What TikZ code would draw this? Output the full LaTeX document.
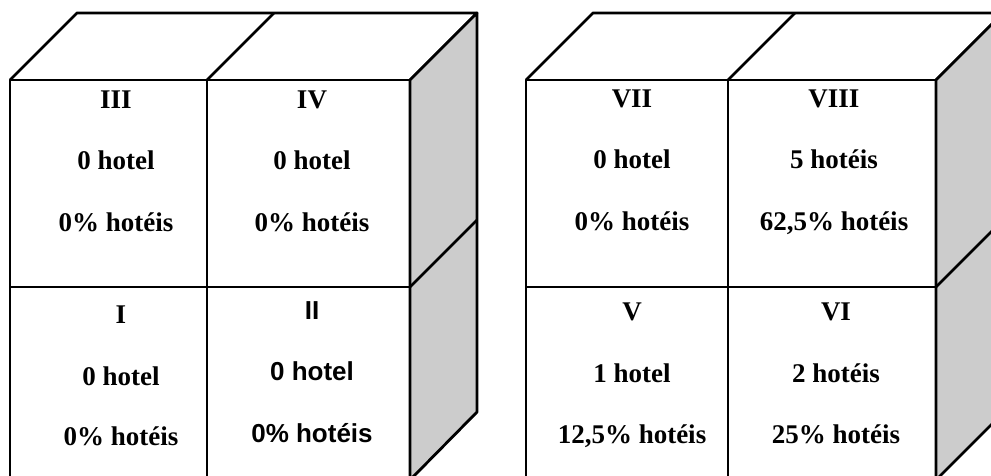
\documentclass[tikz,border=0pt]{standalone}
\usepackage{fontspec}
\setmainfont{Liberation Serif}
\newfontfamily\arialfont{Liberation Sans}
\begin{document}
\begin{tikzpicture}[x=1pt,y=-1pt,
  edge/.style={line width=2.8pt,line join=round},
  sideface/.style={edge,fill=black!20},
  lbl/.style={anchor=base,inner sep=0pt,font=\fontsize{27}{31}\selectfont\bfseries},
  lbls/.style={anchor=base,inner sep=0pt,font=\fontsize{26}{30}\selectfont\arialfont\bfseries}]
\useasboundingbox (0,0) rectangle (991,475);
\clip (0,0) rectangle (991,475);
% ---------- left cube ----------
\draw[edge] (10,80) -- (77,13) -- (477,13) -- (410,80);
\draw[edge] (207,80) -- (274,13);
\draw[sideface] (410,80) -- (477,13) -- (477,412) -- (410,480) -- cycle;
\draw[edge] (410,287) -- (477,220);
\draw[edge] (10,480) -- (10,80) -- (410,80) -- (410,480);
\draw[edge] (207,80) -- (207,480);
\draw[edge] (10,287) -- (410,287);
% ---------- right cube ----------
\draw[edge] (526,80) -- (593,13) -- (1003,13) -- (936,80);
\draw[edge] (728,80) -- (795,13);
\draw[sideface] (936,80) -- (1003,13) -- (1003,413) -- (936,480) -- cycle;
\draw[edge] (936,287) -- (1003,220);
\draw[edge] (526,480) -- (526,80) -- (936,80) -- (936,480);
\draw[edge] (728,80) -- (728,480);
\draw[edge] (526,287) -- (936,287);
% ---------- texts ----------
\node[lbl] (c3a) at (116,108) {III};
\node[lbl] (c3b) at (116,169) {0 hotel};
\node[lbl] (c3c) at (116,231) {0\% hotéis};
\node[lbl] (c4a) at (312,108) {IV};
\node[lbl] (c4b) at (312,169) {0 hotel};
\node[lbl] (c4c) at (312,231) {0\% hotéis};
\node[lbl] (c1a) at (121,323) {I};
\node[lbl] (c1b) at (121,385) {0 hotel};
\node[lbl] (c1c) at (121,445) {0\% hotéis};
\node[lbls] (c2a) at (312,319) {II};
\node[lbls] (c2b) at (312,380) {0 hotel};
\node[lbls] (c2c) at (312,442) {0\% hotéis};
\node[lbl] (c7a) at (632,107) {VII};
\node[lbl] (c7b) at (632,168) {0 hotel};
\node[lbl] (c7c) at (632,230) {0\% hotéis};
\node[lbl] (c8a) at (834,107) {VIII};
\node[lbl] (c8b) at (834,168) {5 hotéis};
\node[lbl] (c8c) at (834,230) {62,5\% hotéis};
\node[lbl] (c5a) at (632,320) {V};
\node[lbl] (c5b) at (632,382) {1 hotel};
\node[lbl] (c5c) at (632,443) {12,5\% hotéis};
\node[lbl] (c6a) at (836,320) {VI};
\node[lbl] (c6b) at (836,382) {2 hotéis};
\node[lbl] (c6c) at (836,443) {25\% hotéis};
\end{tikzpicture}
\end{document}
